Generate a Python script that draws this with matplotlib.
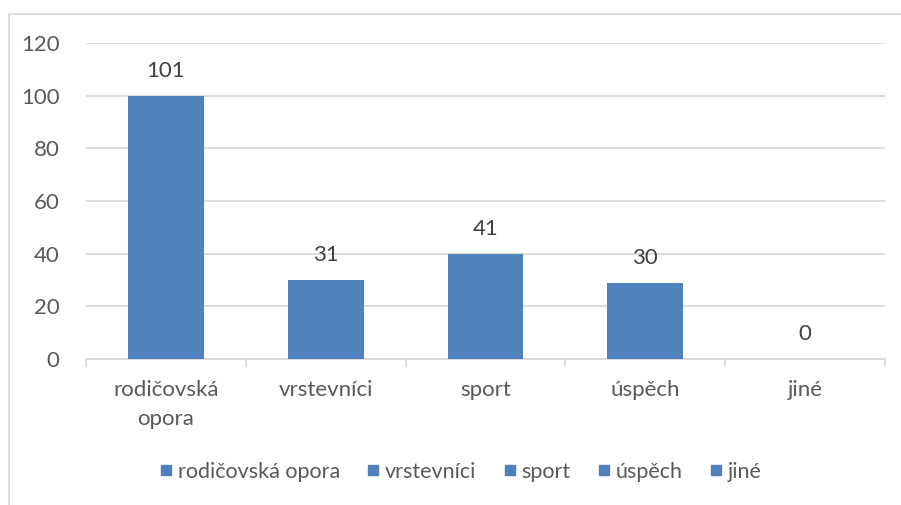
import matplotlib.pyplot as plt
from matplotlib.patches import Rectangle
from matplotlib.lines import Line2D

plt.rcParams['font.family'] = ['Lato', 'DejaVu Sans']

# data
categories = ['rodičovská\nopora', 'vrstevníci', 'sport', 'úspěch', 'jiné']
legend_names = ['rodičovská opora', 'vrstevníci', 'sport', 'úspěch', 'jiné']
values = [100, 30, 40, 29, 0]
value_labels = ['101', '31', '41', '30', '0']
yticks = [0, 20, 40, 60, 80, 100, 120]

bar_color = '#4F81BD'
text_color = '#595959'
grid_color = '#D9D9D9'
fs = 16

fig = plt.figure(figsize=(9.01, 5.05), dpi=100)
ax = fig.add_axes([86 / 901, 1 - 359 / 505, (885 - 86) / 901, (359 - 43) / 505])

x = list(range(len(categories)))
ax.bar(x, values, width=0.475, color=bar_color, zorder=3)

for xi, v, lab in zip(x, values, value_labels):
    ax.text(xi, v + 9.5, lab, ha='center', va='center', fontsize=fs, color='#404040')

ax.set_xlim(-0.5, len(categories) - 0.5)
ax.set_ylim(0, 120)
ax.set_yticks(yticks)
ax.set_yticklabels([str(t) for t in yticks], fontsize=fs, color=text_color)
ax.yaxis.grid(True, color=grid_color, linewidth=1.3, zorder=0)
ax.tick_params(axis='y', length=0, pad=19)

ax.set_xticks(x)
ax.set_xticklabels(categories, fontsize=fs, color=text_color, linespacing=1.6)
ax.set_xticks([i - 0.5 for i in range(len(categories) + 1)], minor=True)
ax.tick_params(axis='x', which='major', length=0, pad=15)
ax.tick_params(axis='x', which='minor', length=6, color=grid_color, width=1.3, direction='out')

for s in ['top', 'right', 'left']:
    ax.spines[s].set_visible(False)
ax.spines['bottom'].set_color(grid_color)
ax.spines['bottom'].set_linewidth(1.3)

handles = [Line2D([], [], marker='s', linestyle='none', markersize=7,
                  markerfacecolor=bar_color, markeredgecolor=bar_color) for _ in legend_names]
fig.legend(handles, legend_names, loc='center', bbox_to_anchor=(458 / 901, 1 - 472 / 505),
           ncol=5, frameon=False, fontsize=15.5, handletextpad=0.0, columnspacing=1.0,
           handlelength=1.1, labelcolor=text_color)

# chart area border
fig.patches.append(Rectangle((8.5 / 901, -0.01), 1.2, 1 - 14 / 505 + 0.01, transform=fig.transFigure,
                             fill=False, edgecolor=grid_color, linewidth=1.3))

fig.savefig('out.png', dpi=100)
